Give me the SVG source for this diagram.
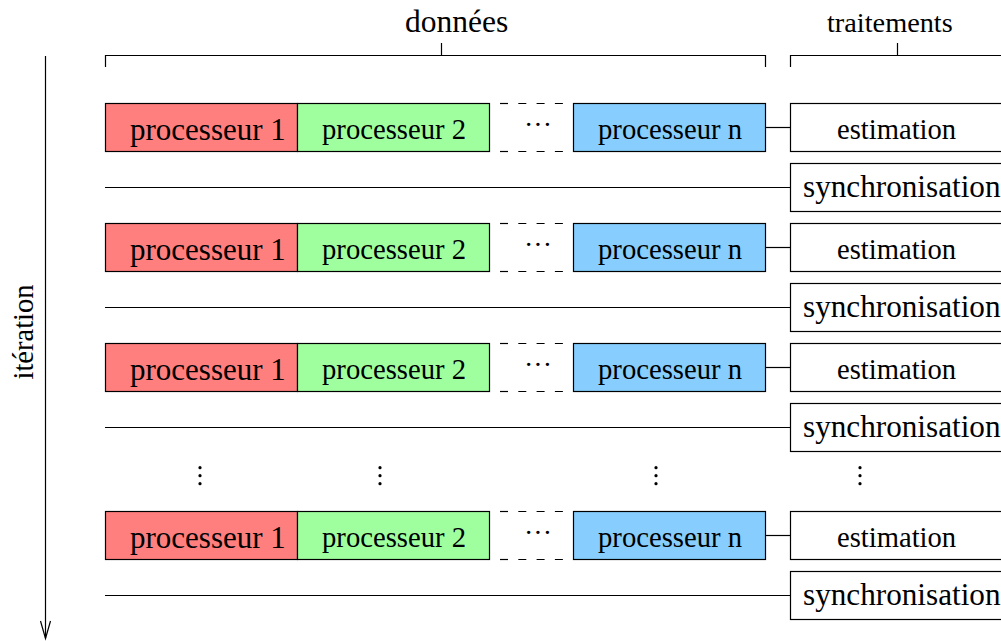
<svg xmlns="http://www.w3.org/2000/svg" width="1001" height="641" viewBox="0 0 1001 641">
<style>
  .bx { stroke: #000; stroke-width: 1.2; }
  .r { fill: #FF7F7F; }
  .g { fill: #9FFF9F; }
  .b { fill: #87CEFF; }
  .w { fill: #FFFFFF; }
  .ln { stroke: #000; stroke-width: 1.2; fill: none; }
  .dash { stroke: #000; stroke-width: 1.2; fill: none; stroke-dasharray: 8 10.3; stroke-dashoffset: 9.3; }
  text { font-family: "Liberation Serif", "Times New Roman", serif; fill: #000; }
  .p1 { font-size: 31px; }
  .p2 { font-size: 28.7px; }
  .es { font-size: 28.6px; }
  .sy { font-size: 31.2px; }
  .dt { fill: #000; }
</style>
<defs>
  <g id="row">
    <rect class="bx r" x="105.5" y="103.5" width="192" height="48"/>
    <rect class="bx g" x="297.5" y="103.5" width="192" height="48"/>
    <line class="dash" x1="491" y1="103.5" x2="573" y2="103.5"/>
    <line class="dash" x1="491" y1="151.5" x2="573" y2="151.5"/>
    <rect class="bx b" x="573.5" y="103.5" width="192" height="48"/>
    <rect class="bx w" x="790.5" y="103.5" width="214" height="48"/>
    <rect class="bx w" x="790.5" y="163.5" width="214" height="48"/>
    <text class="p1" x="130" y="140">processeur 1</text>
    <text class="p2" x="322" y="139">processeur 2</text>
    <text x="524" y="134" style="font-size:28px">···</text>
    <text class="p2" x="598" y="139">processeur n</text>
    <text class="es" x="837" y="139">estimation</text>
    <text class="sy" x="803" y="197">synchronisation</text>
  </g>
</defs>

<g id="header-donnees">
  <path class="ln" d="M105.5,67 V55.5 H765.5 V67 M441.5,55.5 V43"/>
  <text x="405" y="32" style="font-size:31.5px">données</text>
</g>
<g id="header-traitements">
  <path class="ln" d="M790.5,67 V55.5 H1004 M897.5,55.5 V43"/>
  <text x="827" y="32" style="font-size:28.3px">traitements</text>
</g>

<g id="iteration-axis">
  <text x="33" y="332" text-anchor="middle" style="font-size:28.5px" transform="rotate(-90 33 332)">itération</text>
</g>

<g id="connectors">
  <line class="ln" x1="45.5" y1="56" x2="45.5" y2="638"/>
  <polyline class="ln" points="40.5,621 45.5,638.5 50.5,621"/>
  <line class="ln" x1="765.5" y1="127.5" x2="790.5" y2="127.5"/>
  <line class="ln" x1="105" y1="187.5" x2="790.5" y2="187.5"/>
  <line class="ln" x1="765.5" y1="247.5" x2="790.5" y2="247.5"/>
  <line class="ln" x1="105" y1="307.5" x2="790.5" y2="307.5"/>
  <line class="ln" x1="765.5" y1="367.5" x2="790.5" y2="367.5"/>
  <line class="ln" x1="105" y1="427.5" x2="790.5" y2="427.5"/>
  <line class="ln" x1="765.5" y1="535.5" x2="790.5" y2="535.5"/>
  <line class="ln" x1="105" y1="595.5" x2="790.5" y2="595.5"/>
</g>

<g id="row1"><use href="#row"/></g>
<g id="row2"><use href="#row" transform="translate(0,120)"/></g>
<g id="row3"><use href="#row" transform="translate(0,240)"/></g>
<g id="row4"><use href="#row" transform="translate(0,408)"/></g>

<g id="vdots">
  <circle class="dt" cx="200" cy="467.7" r="1.6"/>
  <circle class="dt" cx="200" cy="475.7" r="1.6"/>
  <circle class="dt" cx="200" cy="483.7" r="1.6"/>
  <circle class="dt" cx="380" cy="467.7" r="1.6"/>
  <circle class="dt" cx="380" cy="475.7" r="1.6"/>
  <circle class="dt" cx="380" cy="483.7" r="1.6"/>
  <circle class="dt" cx="656" cy="467.7" r="1.6"/>
  <circle class="dt" cx="656" cy="475.7" r="1.6"/>
  <circle class="dt" cx="656" cy="483.7" r="1.6"/>
  <circle class="dt" cx="860" cy="467.7" r="1.6"/>
  <circle class="dt" cx="860" cy="475.7" r="1.6"/>
  <circle class="dt" cx="860" cy="483.7" r="1.6"/>
</g>
</svg>
